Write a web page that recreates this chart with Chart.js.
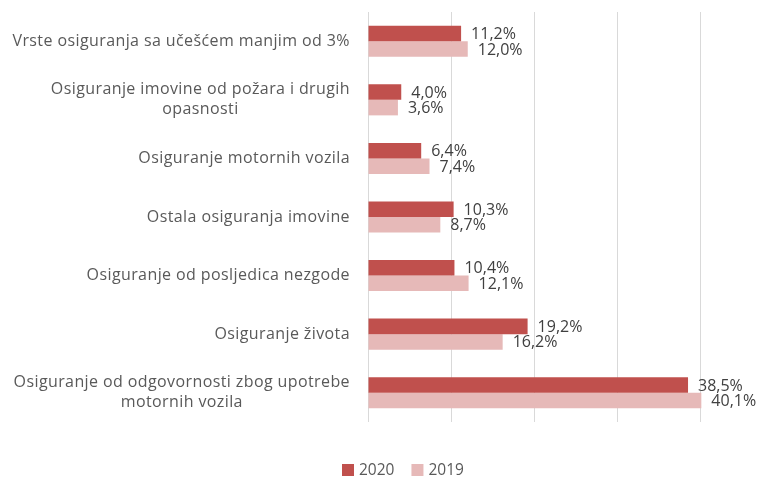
<!DOCTYPE html>
<html>
<head>
<meta charset="utf-8">
<script src="https://cdn.jsdelivr.net/npm/chart.js@4/dist/chart.umd.min.js"></script>
<style>
  html, body { margin: 0; padding: 0; background: #fff; }
  #wrap { width: 774px; height: 478px; position: relative; }
</style>
</head>
<body>
<div id="wrap"><canvas id="myChart"></canvas></div>
<script>
const categories = [
  ['Vrste osiguranja sa učešćem manjim od 3%'],
  ['Osiguranje imovine od požara i drugih', 'opasnosti'],
  ['Osiguranje motornih vozila'],
  ['Ostala osiguranja imovine'],
  ['Osiguranje od posljedica nezgode'],
  ['Osiguranje života'],
  ['Osiguranje od odgovornosti zbog upotrebe', 'motornih vozila'],
];
const values2020 = [11.2, 4.0, 6.4, 10.3, 10.4, 19.2, 38.5];
const values2019 = [12.0, 3.6, 7.4, 8.7, 12.1, 16.2, 40.1];

const FONT = '"Open Sans"';

// category names drawn by hand so wrapped lines stay centred
const categoryLabels = {
  id: 'categoryLabels',
  afterDraw(chart) {
    const c = chart.ctx;
    const y = chart.scales.y;
    const right = chart.chartArea.left - 18;
    c.save();
    c.font = '16px ' + FONT;
    c.letterSpacing = '0.4px';
    c.fillStyle = '#595959';
    c.textAlign = 'center';
    c.textBaseline = 'middle';
    const lh = 20;
    categories.forEach((lines, i) => {
      const w = Math.max(...lines.map(l => c.measureText(l).width));
      const cx = right - w / 2;
      const cy = y.getPixelForValue(i);
      const top = cy - (lines.length - 1) * lh / 2;
      lines.forEach((l, k) => c.fillText(l, cx, top + k * lh));
    });
    c.restore();
  },
};

// value labels to the right of each bar + legend under the plot
const valueLabels = {
  id: 'valueLabels',
  afterDatasetsDraw(chart) {
    const c = chart.ctx;
    c.save();
    c.font = '16px ' + FONT;
    c.fillStyle = '#404040';
    c.textAlign = 'left';
    c.textBaseline = 'middle';
    chart.data.datasets.forEach((ds, di) => {
      chart.getDatasetMeta(di).data.forEach((bar, i) => {
        const txt = ds.data[i].toFixed(1).replace('.', ',') + '%';
        c.fillText(txt, bar.x + 10, bar.y + 1);
      });
    });

    // legend
    c.font = '15.5px ' + FONT;
    let lx = 342;
    const ly = 470;
    chart.data.datasets.forEach((ds) => {
      c.fillStyle = ds.backgroundColor;
      c.fillRect(lx, ly - 6, 12, 12);
      c.fillStyle = '#595959';
      c.fillText(ds.label, lx + 17, ly + 1);
      lx += 17 + c.measureText(ds.label).width + 17;
    });
    c.restore();
  },
};

const ctx = document.getElementById('myChart').getContext('2d');
const myChart = new Chart(ctx, {
  type: 'bar',
  data: {
    labels: categories,
    datasets: [
      {
        label: '2020',
        data: values2020,
        backgroundColor: '#C0504D',
        categoryPercentage: 0.53,
        barPercentage: 1,
      },
      {
        label: '2019',
        data: values2019,
        backgroundColor: '#E6B9B8',
        categoryPercentage: 0.53,
        barPercentage: 1,
      },
    ],
  },
  options: {
    indexAxis: 'y',
    responsive: true,
    maintainAspectRatio: false,
    animation: false,
    layout: {
      padding: { left: 368, right: 7, top: 12, bottom: 56 },
    },
    scales: {
      x: {
        min: 0,
        max: 48,
        ticks: { display: false, stepSize: 10 },
        border: { display: false },
        grid: {
          color: (g) => (g.tick && g.tick.value % 10 === 0 ? '#d9d9d9' : 'rgba(0,0,0,0)'),
          lineWidth: 1,
          drawTicks: false,
        },
      },
      y: {
        display: false,
      },
    },
    plugins: {
      legend: { display: false },
      tooltip: { enabled: false },
    },
  },
  plugins: [categoryLabels, valueLabels],
});
</script>
</body>
</html>
